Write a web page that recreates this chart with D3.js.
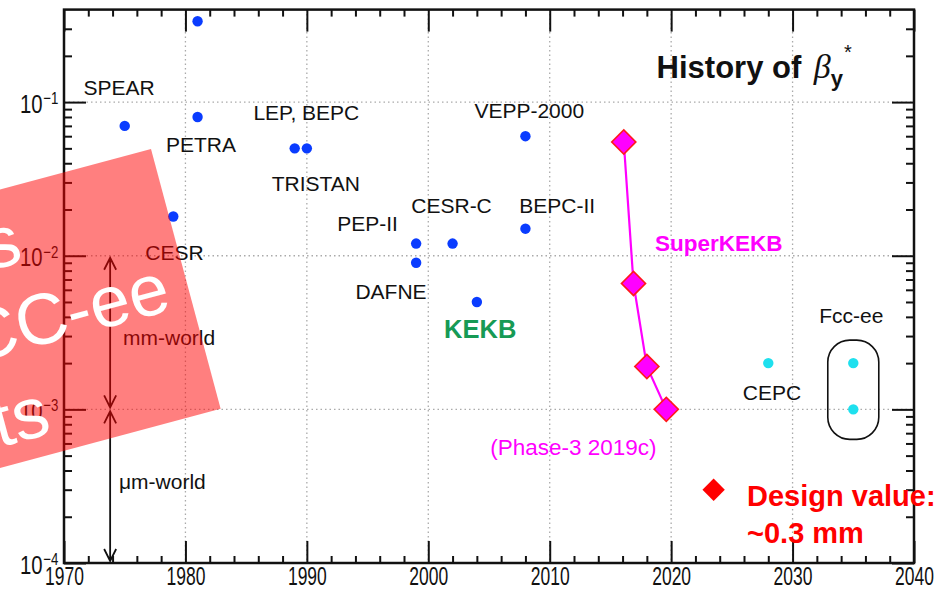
<!DOCTYPE html>
<html><head><meta charset="utf-8">
<script src="https://cdn.jsdelivr.net/npm/d3@7"></script>
<style>body{margin:0;background:#fff;} svg{display:block}</style>
</head><body><svg id="c" width="940" height="591"></svg>
<script>
// ---------- data ----------
const xMajorTicks = [1970,1980,1990,2000,2010,2020,2030,2040];
const yMajorExps = [-4,-3,-2,-1];
const colliderNames = ["SPEAR","PETRA","(1981)","CESR","LEP","BEPC","PEP-II","DAFNE","CESR-C","KEKB","VEPP-2000","BEPC-II"];
const colliderYears = [1975,1981,1981,1979,1989,1990,1999,1999,2002,2004,2008,2008];
const colliderBeta  = [0.07,0.08,0.336,0.018,0.05,0.05,0.012,0.009,0.012,0.005,0.06,0.015];
const skekbYears = [2016.1,2016.9,2018.0,2019.6];
const skekbBeta  = [0.055,0.0066,0.0019,0.001];
const futureNames = ["CEPC","Fcc-ee","Fcc-ee"];
const futureYears = [2028,2035,2035];
const futureBeta  = [0.002,0.002,0.001];
const designYears = [2023.5];
const designBeta  = [0.0003];
const labelTexts = ["SPEAR","PETRA","LEP, BEPC","TRISTAN","CESR","PEP-II","CESR-C","DAFNE","KEKB","VEPP-2000","BEPC-II","SuperKEKB","(Phase-3 2019c)","CEPC","Fcc-ee","mm-world","\u03bcm-world","Design value:","~0.3 mm"];
const labelYears = [1971.6,1978.4,1985.6,1987.1,1976.7,1992.5,1998.6,1994.0,2001.3,2003.8,2007.5,2018.67,2005.1,2025.9,2032.2,1974.86,1974.53,2026.25,2026.25];
const labelBeta  = [0.111,0.0472,0.0763,0.0264,0.00935,0.01446,0.0189,0.00521,0.00291,0.0787,0.0189,0.01072,0.000504,0.001148,0.00364,0.00262,0.000302,0.000234,0.0001345];
const labelKinds = ["n","n","n","n","n","n","n","n","kekb","n","n","skekb","phase","n","n","n","n","design","design"];
const arrowYear = 1973.8;
const titleYear = 2018.8, titleBeta = 0.143;
const overlayLines = ["s","CC-ee","ts"];

// ---------- setup ----------
const svg = d3.select("#c");
const x = d3.scaleLinear().domain([1970,2040]).range([64,914]);
const y = d3.scaleLog().domain([1e-4,0.4]).range([563,9.6]);
const X0=64, X1=914, Y0=563, Y1=9.6;
const SANS = "'Liberation Sans', Arial, sans-serif";
const SQX = 0.7, SQY = 0.78;

// grid
const gridX = xMajorTicks.filter(v=>v>1970&&v<2040);
svg.append("g").selectAll("line").data(gridX).join("line")
  .attr("x1",d=>x(d)).attr("x2",d=>x(d)).attr("y1",Y1).attr("y2",Y0)
  .attr("stroke","#aaa").attr("stroke-width",1.3).attr("stroke-dasharray","1.5,3");
const gridY = yMajorExps.filter(e=>e>-4).map(e=>Math.pow(10,e));
svg.append("g").selectAll("line").data(gridY).join("line")
  .attr("x1",X0).attr("x2",X1).attr("y1",d=>y(d)).attr("y2",d=>y(d))
  .attr("stroke","#aaa").attr("stroke-width",1.3).attr("stroke-dasharray","1.5,3");

// minor tick values
const xMinor = d3.range(1972,2040,2).filter(v=>v%10!==0);
const yMinor = [];
yMajorExps.forEach(e=>{ for(let m=2;m<=9;m++){ const v=m*Math.pow(10,e); if(v<0.4) yMinor.push(v);} });
const yMajor = yMajorExps.map(e=>Math.pow(10,e));

function styleAxis(g){ g.select(".domain").remove(); g.selectAll("line").attr("stroke","#111").attr("stroke-width",2); }

// minor ticks
svg.append("g").attr("transform",`translate(0,${Y0})`).call(d3.axisBottom(x).tickValues(xMinor).tickSize(-7).tickSizeOuter(0).tickFormat("")).call(styleAxis);
svg.append("g").attr("transform",`translate(0,${Y1})`).call(d3.axisTop(x).tickValues(xMinor).tickSize(-7).tickSizeOuter(0).tickFormat("")).call(styleAxis);
svg.append("g").attr("transform",`translate(${X0},0)`).call(d3.axisLeft(y).tickValues(yMinor).tickSize(-8).tickSizeOuter(0).tickFormat("")).call(styleAxis);
svg.append("g").attr("transform",`translate(${X1},0)`).call(d3.axisRight(y).tickValues(yMinor).tickSize(-8).tickSizeOuter(0).tickFormat("")).call(styleAxis);

// bottom major
const gB = svg.append("g").attr("transform",`translate(0,${Y0})`);
gB.call(d3.axisBottom(x).tickValues(xMajorTicks).tickSize(-22).tickSizeOuter(0).tickPadding(4.5).tickFormat(d3.format("d")));
styleAxis(gB);
gB.selectAll("text").attr("font-family",SANS).attr("font-size",25).attr("fill","#111")
  .attr("transform",`scale(${SQX},1)`);
// top major
const gT = svg.append("g").attr("transform",`translate(0,${Y1})`);
gT.call(d3.axisTop(x).tickValues(xMajorTicks).tickSize(-22).tickSizeOuter(0).tickFormat(""));
styleAxis(gT);
// left major
const gL = svg.append("g").attr("transform",`translate(${X0},0)`);
gL.call(d3.axisLeft(y).tickValues(yMajor).tickSize(-22).tickSizeOuter(0).tickFormat(""));
styleAxis(gL);
gL.selectAll(".tick").each(function(d){
  const t = d3.select(this).append("text").attr("x",-44/SQY).attr("y",0).attr("dy",10)
    .attr("transform",`scale(${SQY},1)`)
    .attr("font-family",SANS).attr("font-size",26).attr("fill","#111").attr("text-anchor","start");
  t.append("tspan").text("10");
  t.append("tspan").attr("dy",-8.5).attr("dx",1).attr("font-size",17).text("\u2212"+Math.round(-Math.log10(d)));
});
// right major
const gR = svg.append("g").attr("transform",`translate(${X1},0)`);
gR.call(d3.axisRight(y).tickValues(yMajor).tickSize(-22).tickSizeOuter(0).tickFormat(""));
styleAxis(gR);
// frame
svg.append("rect").attr("x",X0).attr("y",Y1).attr("width",X1-X0).attr("height",Y0-Y1)
  .attr("fill","none").attr("stroke","#111").attr("stroke-width",2.5);

// arrows
const ax = x(arrowYear);
function vArrow(vTop,vBot){
  const t=y(vTop)+2, b=y(vBot)-2, h=12, w=6;
  svg.append("path").attr("d",`M${ax},${t}L${ax},${b}M${ax-w},${t+h}L${ax},${t}L${ax+w},${t+h}M${ax-w},${b-h}L${ax},${b}L${ax+w},${b-h}`)
    .attr("fill","none").attr("stroke","#111").attr("stroke-width",1.8);
}
vArrow(1e-2,1e-3); vArrow(1e-3,1e-4);

// collider points
svg.append("g").selectAll("circle").data(colliderYears).join("circle")
  .attr("cx",(d,i)=>x(d)).attr("cy",(d,i)=>y(colliderBeta[i])).attr("r",5.2).attr("fill","#0a3cff");

// SuperKEKB
const skData = skekbYears.map((d,i)=>[d,skekbBeta[i]]);
svg.append("path").datum(skData).attr("d",d3.line().x(d=>x(d[0])).y(d=>y(d[1])))
  .attr("fill","none").attr("stroke","#ff00ff").attr("stroke-width",2.2);
const sq = d3.symbol().type(d3.symbolSquare).size(290);
svg.append("g").selectAll("path").data(skData).join("path")
  .attr("d",sq).attr("transform",d=>`translate(${x(d[0])},${y(d[1])}) rotate(45)`)
  .attr("fill","#ff00ff").attr("stroke","#ff1a1a").attr("stroke-width",1.6);

// future points
svg.append("g").selectAll("circle").data(futureYears).join("circle")
  .attr("cx",d=>x(d)).attr("cy",(d,i)=>y(futureBeta[i])).attr("r",5.2).attr("fill","#1ee0ee");
// Fcc-ee box
const fccIdx = futureNames.map((n,i)=>n==="Fcc-ee"?i:-1).filter(i=>i>=0);
const fx = x(futureYears[fccIdx[0]]);
const fyTop = d3.min(fccIdx,i=>y(futureBeta[i])), fyBot = d3.max(fccIdx,i=>y(futureBeta[i]));
svg.append("rect").attr("x",fx-25.5).attr("y",fyTop-23).attr("width",51).attr("height",fyBot-fyTop+53)
  .attr("rx",22).attr("ry",22).attr("fill","none").attr("stroke","#111").attr("stroke-width",1.6);

// design value marker
svg.append("g").selectAll("path").data(designYears).join("path")
  .attr("d",d3.symbol().type(d3.symbolSquare).size(250))
  .attr("transform",(d,i)=>`translate(${x(d)},${y(designBeta[i])}) rotate(45)`)
  .attr("fill","#ff0000");

// labels
const kindStyle = {
  n:{fill:"#111",size:21,weight:"normal"},
  kekb:{fill:"#169a55",size:25.5,weight:"bold"},
  skekb:{fill:"#ff00ff",size:22.5,weight:"bold"},
  phase:{fill:"#ff00ff",size:22.5,weight:"normal"},
  design:{fill:"#ff0000",size:29,weight:"bold"}
};
svg.append("g").selectAll("text").data(labelTexts).join("text")
  .attr("x",(d,i)=>x(labelYears[i])).attr("y",(d,i)=>y(labelBeta[i]))
  .attr("font-family",SANS)
  .attr("font-size",(d,i)=>kindStyle[labelKinds[i]].size)
  .attr("font-weight",(d,i)=>kindStyle[labelKinds[i]].weight)
  .attr("fill",(d,i)=>kindStyle[labelKinds[i]].fill)
  .text(d=>d);

// title
const tt = svg.append("text").attr("x",x(titleYear)).attr("y",y(titleBeta))
  .attr("font-family",SANS).attr("font-weight","bold").attr("font-size",31).attr("fill","#111");
tt.append("tspan").text("History of ");
tt.append("tspan").attr("dx",4).attr("font-family","'Liberation Serif', serif").attr("font-style","italic").attr("font-weight","normal").attr("font-size",34).text("\u03b2");
tt.append("tspan").attr("dy",8).attr("font-size",22).text("y");
tt.append("tspan").attr("dy",-27).attr("dx",1).attr("font-size",20).attr("font-weight","normal").text("*");

// overlay sticker
const ov = svg.append("g").attr("transform","translate(151,149) rotate(-15)");
ov.append("rect").attr("x",-420).attr("y",0).attr("width",420).attr("height",269).attr("fill","rgba(255,0,0,0.5)");
const ovEnds=[-151,-20,-168], ovBase=[76,161,249];
ov.selectAll("text").data(overlayLines).join("text")
  .attr("x",(d,i)=>ovEnds[i]).attr("y",(d,i)=>ovBase[i]).attr("text-anchor","end")
  .attr("font-family",SANS).attr("font-size",72).attr("fill","#fff").text(d=>d);
</script></body></html>
